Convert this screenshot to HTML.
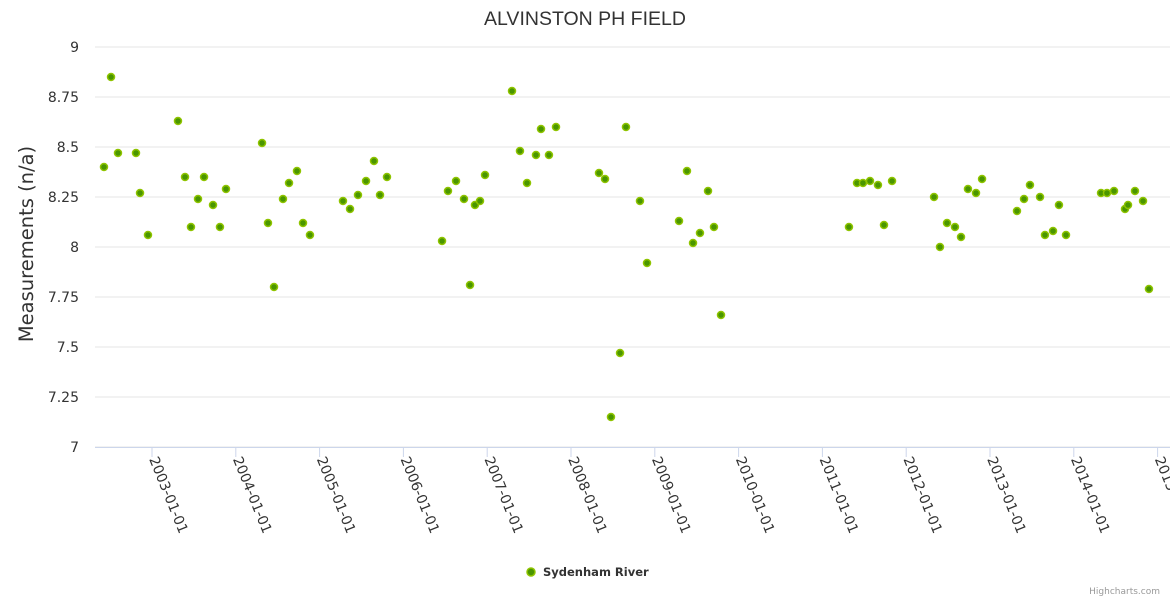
<!DOCTYPE html>
<html><head><meta charset="utf-8"><style>
html,body{margin:0;padding:0;background:#fff;}
svg{display:block;font-family:"DejaVu Sans","Liberation Sans",sans-serif;}
</style></head><body>
<svg id="chart" width="1170" height="600">
<text x="585" y="25" text-anchor="middle" font-size="19.5" font-family="Liberation Sans, sans-serif" fill="#333">ALVINSTON PH FIELD</text>
<g id="grid"></g>
<g id="yticks"></g>
<g id="xaxis"></g>
<text transform="translate(33,244) rotate(-90)" text-anchor="middle" font-size="19.5" fill="#333">Measurements (n/a)</text>
<g id="points"></g>
<g>
<circle cx="531" cy="572" r="4" fill="#4a9600" stroke="#8fc400" stroke-width="1.5"/>
<text x="543" y="576" font-size="11.5" font-weight="bold" fill="#333">Sydenham River</text>
</g>
<text x="1160" y="594" text-anchor="end" font-size="9" fill="#999">Highcharts.com</text>
</svg>
<script>
const yTicks = [7, 7.25, 7.5, 7.75, 8, 8.25, 8.5, 8.75, 9];
const yTickLabels = ["7","7.25","7.5","7.75","8","8.25","8.5","8.75","9"];
const xTickYears = [2003,2004,2005,2006,2007,2008,2009,2010,2011,2012,2013,2014,2015];
const xTickLabels = ["2003-01-01","2004-01-01","2005-01-01","2006-01-01","2007-01-01","2008-01-01","2009-01-01","2010-01-01","2011-01-01","2012-01-01","2013-01-01","2014-01-01","2015-01-01"];
const dates = [2002.427,2002.511,2002.594,2002.809,2002.857,2002.952,2003.310,2003.394,2003.465,2003.549,2003.621,2003.728,2003.811,2003.883,
2004.313,2004.384,2004.456,2004.563,2004.635,2004.730,2004.802,2004.885,2005.279,2005.363,2005.458,2005.554,2005.649,2005.721,2005.804,
2006.461,2006.532,2006.628,2006.723,2006.795,2006.854,2006.914,2006.974,2007.296,2007.391,2007.475,2007.582,2007.642,2007.737,2007.821,
2008.334,2008.406,2008.477,2008.585,2008.656,2008.823,2008.907,2009.289,2009.384,2009.456,2009.539,2009.635,2009.706,2009.790,
2011.317,2011.413,2011.484,2011.568,2011.663,2011.735,2011.831,2012.332,2012.403,2012.487,2012.582,2012.654,2012.737,2012.833,2012.905,
2013.322,2013.406,2013.477,2013.597,2013.656,2013.752,2013.823,2013.907,2014.325,2014.396,2014.480,2014.611,2014.647,2014.730,2014.826,2014.897];
const values = [8.40,8.85,8.47,8.47,8.27,8.06,8.63,8.35,8.10,8.24,8.35,8.21,8.10,8.29,
8.52,8.12,7.80,8.24,8.32,8.38,8.12,8.06,8.23,8.19,8.26,8.33,8.43,8.26,8.35,
8.03,8.28,8.33,8.24,7.81,8.21,8.23,8.36,8.78,8.48,8.32,8.46,8.59,8.46,8.60,
8.37,8.34,7.15,7.47,8.60,8.23,7.92,8.13,8.38,8.02,8.07,8.28,8.10,7.66,
8.10,8.32,8.32,8.33,8.31,8.11,8.33,8.25,8.00,8.12,8.10,8.05,8.29,8.27,8.34,
8.18,8.24,8.31,8.25,8.06,8.08,8.21,8.06,8.27,8.27,8.28,8.19,8.21,8.28,8.23,7.79];

const NS="http://www.w3.org/2000/svg";
const plotL=95, plotR=1170, yTop=47, yBot=447;
function yScale(v){return yBot-(v-7)/(9-7)*(yBot-yTop);}
function xScale(t){return 152+(t-2003)*83.8;}
function mk(tag,attrs,parent){const e=document.createElementNS(NS,tag);for(const k in attrs)e.setAttribute(k,attrs[k]);parent.appendChild(e);return e;}
const grid=document.getElementById('grid'), yt=document.getElementById('yticks'), xa=document.getElementById('xaxis'), pts=document.getElementById('points');
yTicks.forEach((v,i)=>{
  const y=yScale(v);
  const l=mk('line',{x1:plotL,x2:plotR,y1:y,y2:y,stroke:'#e6e6e6','stroke-width':1},grid);
  
  
  const t=mk('text',{x:79,y:y+5,'text-anchor':'end','font-size':14,fill:'#333'},yt);
  t.textContent=yTickLabels[i];
  
  
});
mk('line',{x1:plotL,x2:plotR,y1:yBot+0.5,y2:yBot+0.5,stroke:'#ccd6eb','stroke-width':1},xa);
xTickYears.forEach((yr,i)=>{
  const x=xScale(yr);
  const tk=mk('line',{x1:x,x2:x,y1:yBot,y2:yBot+10,stroke:'#ccd6eb','stroke-width':1},xa);
  
  
  const t=mk('text',{transform:`translate(${x-3},${yBot+12}) rotate(68)`,'font-size':14,fill:'#333'},xa);
  t.textContent=xTickLabels[i];
  
  
});
dates.forEach((d,i)=>{
  const c=mk('circle',{cx:xScale(d),cy:yScale(values[i]),r:3.5,fill:'#4a9600',stroke:'#8fc400','stroke-width':1.5},pts);
  
  
});
</script>
</body></html>
